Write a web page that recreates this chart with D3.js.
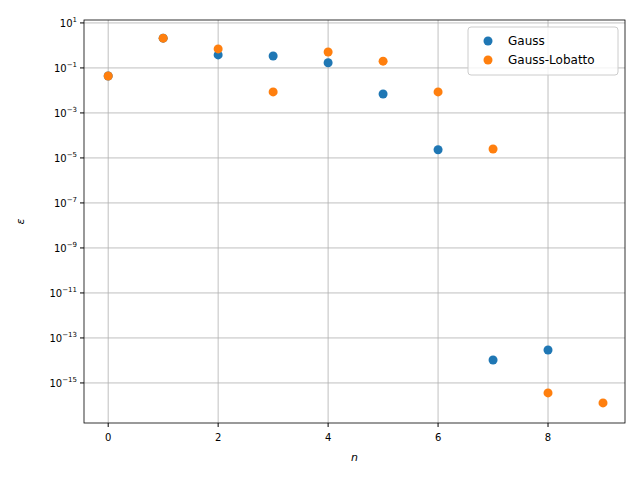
<!DOCTYPE html>
<html><head><meta charset="utf-8">
<script src="https://cdn.jsdelivr.net/npm/d3@7"></script>
<style>body{margin:0;font-family:"DejaVu Sans",sans-serif;}</style>
</head><body><div id="chart"></div>
<script>
var gaussN = [0,1,2,3,4,5,6,7,8];
var gaussE = [0.044,2.1,0.38,0.34,0.17,0.0069,2.3e-5,1.05e-14,2.9e-14];
var lobattoN = [0,1,2,3,4,5,6,7,8,9];
var lobattoE = [0.044,2.1,0.7,0.0086,0.51,0.2,0.0086,2.5e-5,3.6e-16,1.3e-16];
var xTicks = [0,2,4,6,8];
var yExps = [1,-1,-3,-5,-7,-9,-11,-13,-15];

var margin = {top: 20, right: 15, bottom: 57, left: 84},
    width = 640 - margin.left - margin.right,
    height = 480 - margin.top - margin.bottom;

var svg = d3.select("#chart").append("svg")
    .attr("width", 640).attr("height", 480)
    .append("g")
    .attr("transform", "translate(" + margin.left + "," + margin.top + ")");

var x = d3.scaleLinear().domain([-0.44, 9.4]).range([0, width]);
var y = d3.scaleLog().domain([Math.pow(10,-16.78), Math.pow(10,1.13)]).range([height, 0]);

/* grid */
svg.selectAll(".gx").data(xTicks).enter().append("line")
   .attr("x1", function(d){return x(d);}).attr("x2", function(d){return x(d);})
   .attr("y1", 0).attr("y2", height).style("stroke", "#b0b0b0").style("stroke-width", 0.8);
svg.selectAll(".gy").data(yExps).enter().append("line")
   .attr("x1", 0).attr("x2", width)
   .attr("y1", function(d){return y(Math.pow(10,d));}).attr("y2", function(d){return y(Math.pow(10,d));})
   .style("stroke", "#b0b0b0").style("stroke-width", 0.8);

/* x axis */
svg.selectAll(".tx").data(xTicks).enter().append("line")
   .attr("x1", function(d){return x(d);}).attr("x2", function(d){return x(d);})
   .attr("y1", height).attr("y2", height + 4).style("stroke", "black");
svg.selectAll(".lx").data(xTicks).enter().append("text")
   .attr("x", function(d){return x(d);}).attr("y", height + 18)
   .attr("text-anchor", "middle").style("font-size", "10px").text(function(d){return d;});

/* y axis */
svg.selectAll(".ty").data(yExps).enter().append("line")
   .attr("x1", -4).attr("x2", 0)
   .attr("y1", function(d){return y(Math.pow(10,d));}).attr("y2", function(d){return y(Math.pow(10,d));})
   .style("stroke", "black");
var ly = svg.selectAll(".ly").data(yExps).enter().append("text")
   .attr("x", -7).attr("y", function(d){return y(Math.pow(10,d)) + 4;})
   .attr("text-anchor", "end").style("font-size", "10px");
ly.append("tspan").text("10");
ly.append("tspan").attr("dy", -5).style("font-size", "7px").text(function(d){return d < 0 ? "\u2212" + (-d) : d;});

/* points */
svg.selectAll(".pg").data(gaussN).enter().append("circle")
   .attr("cx", function(d){return x(d);}).attr("cy", function(d,i){return y(gaussE[i]);})
   .attr("r", 4.5).style("fill", "#1f77b4");
svg.selectAll(".pl").data(lobattoN).enter().append("circle")
   .attr("cx", function(d){return x(d);}).attr("cy", function(d,i){return y(lobattoE[i]);})
   .attr("r", 4.5).style("fill", "#ff7f0e");

/* frame */
svg.append("rect").attr("width", width).attr("height", height)
   .style("fill", "none").style("stroke", "black").style("stroke-width", 0.8);

/* labels */
svg.append("text").attr("x", width/2).attr("y", height + 38).attr("text-anchor", "middle")
   .style("font-size", "11px").style("font-style", "italic").text("n");
svg.append("text").attr("transform", "translate(-60," + (height/2) + ") rotate(-90)")
   .attr("text-anchor", "middle").style("font-size", "11px").style("font-style", "italic").text("ε");

/* legend */
var lg = svg.append("g").attr("transform", "translate(" + (width - 157) + ",7)");
lg.append("rect").attr("width", 150).attr("height", 48).attr("rx", 3)
  .style("fill", "white").style("fill-opacity", 0.8).style("stroke", "#ccc");
var names = ["Gauss", "Gauss-Lobatto"], cols = ["#1f77b4", "#ff7f0e"];
names.forEach(function(nm, i){
  lg.append("circle").attr("cx", 20).attr("cy", 14 + i*19).attr("r", 4.5).style("fill", cols[i]);
  lg.append("text").attr("x", 40).attr("y", 18 + i*19).style("font-size", "12px").text(nm);
});
</script></body></html>
